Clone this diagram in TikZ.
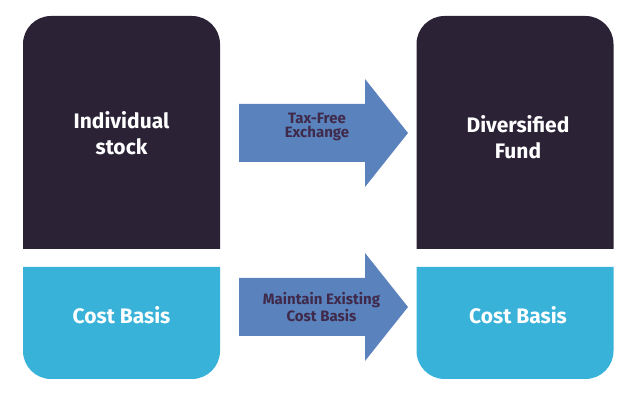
\documentclass[tikz,border=0pt]{standalone}
\usepackage{fontspec}
\setsansfont{Fira Sans}
\usepackage{xcolor}
\usetikzlibrary{arrows.meta,positioning,calc}
\definecolor{plum}    {HTML}{2B2236}
\definecolor{sky}     {HTML}{38B2D8}
\definecolor{steel}   {HTML}{5A82BD}
\definecolor{wine}    {HTML}{3F2A4B}

\begin{document}
\begin{tikzpicture}[
  x=1pt, y=1pt,
  box/.style={rectangle, minimum width=197pt, inner sep=0pt, outer sep=0pt},
  lbl/.style={font=\sffamily\bfseries\fontsize{21}{26}\selectfont, text=white, align=center},
  flowtxt/.style={font=\sffamily\bfseries\fontsize{15}{14}\selectfont, text=wine, align=center}
]
\useasboundingbox (0,0) rectangle (638,414);
\node[box, minimum height=233pt] (stock) at (121.5,281.5) {};
\node[box, minimum height=112pt] (sbasis) at (121.5,91) {};
\node[box, minimum height=233pt] (fund) at (515,281.5) {};
\node[box, minimum height=112pt] (fbasis) at (515,91) {};
% dark boxes, round on top
\foreach \b in {stock,fund}{
  \fill[plum] (\b.south west) -- ([yshift=-28pt]\b.north west)
    arc[start angle=180, end angle=90, radius=28pt] -- ([xshift=-28pt]\b.north east)
    arc[start angle=90, end angle=0, radius=28pt] -- (\b.south east) -- cycle;}
% light boxes, round at the bottom
\foreach \b in {sbasis,fbasis}{
  \fill[sky] (\b.north west) -- ([yshift=28pt]\b.south west)
    arc[start angle=180, end angle=270, radius=28pt] -- ([xshift=-28pt]\b.south east)
    arc[start angle=270, end angle=360, radius=28pt] -- (\b.north east) -- cycle;}
\node[lbl] (stocklbl) at ([yshift=-1pt]stock.center) {Individual\\stock};
\node[lbl] (fundlbl) at ([xshift=3pt,yshift=-5pt]fund.center) {Diversified\\Fund};
\node[lbl] (sbasislbl) at ([yshift=8pt]sbasis.center) {Cost Basis};
\node[lbl] (fbasislbl) at ([xshift=3pt,yshift=8pt]fbasis.center) {Cost Basis};
% block arrows
\coordinate (swapc) at (323.5,281);
\coordinate (keepc) at (323.5,107);
\foreach \a in {swapc,keepc}{
  \fill[steel] ([shift={(-84.5,29)}]\a) -- ([shift={(41.5,29)}]\a) -- ([shift={(41.5,54)}]\a)
    -- ([xshift=84.5]\a) -- ([shift={(41.5,-54)}]\a) -- ([shift={(41.5,-29)}]\a)
    -- ([shift={(-84.5,-29)}]\a) -- cycle;}
\node[flowtxt] (swap) at ([shift={(-6.5,6)}]swapc) {Tax-Free\\Exchange};
\node[flowtxt] (keep) at ([shift={(-2,0)}]keepc) {Maintain Existing\\Cost Basis};
\end{tikzpicture}
\end{document}
